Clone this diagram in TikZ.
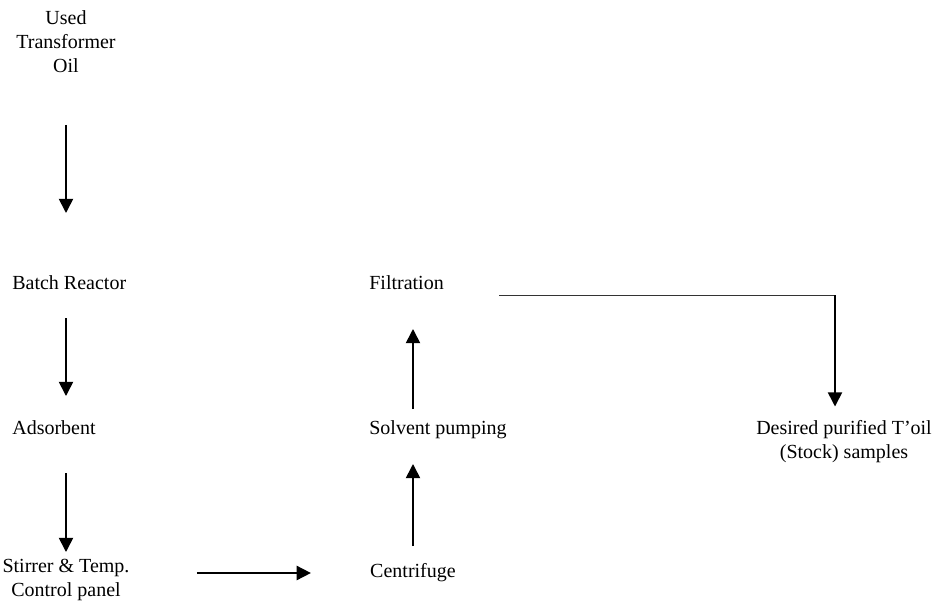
\documentclass[tikz,border=0pt]{standalone}
\usepackage{fontspec}
\setmainfont{Liberation Serif}
\usetikzlibrary{arrows.meta}

\begin{document}
\begin{tikzpicture}[x=0.6pt, y=-0.6pt, >={Triangle[length=8.5pt,width=8.5pt]},
        lbl/.style={inner sep=0pt, font=\fontsize{12}{14.4}\selectfont},
        flow/.style={->, line width=1pt},
        rule/.style={line width=0.6pt, black!80}]
        \useasboundingbox (0,0) rectangle (934,603);

        % left column
        \node[lbl, align=center] (oil) at (66,42) {Used\\Transformer\\Oil};
        \node[lbl, anchor=west] (batch) at (12,283) {Batch Reactor};
        \node[lbl, anchor=west] (adsorb) at (12,428) {Adsorbent};
        \node[lbl, align=center] (stir) at (66,580) {Stirrer \& Temp.\\Control panel};

        % middle column
        \node[lbl] (centr) at (413,573) {Centrifuge};
        \node[lbl, anchor=west] (solv) at (369,430) {Solvent pumping};
        \node[lbl, anchor=west] (filt) at (369,283) {Filtration};

        % output
        \node[lbl, align=center] (stock) at (844,442) {Desired purified T’oil\\(Stock) samples};
        \coordinate (turn) at (835,295);

        \draw[flow, shorten <=49.8pt, shorten >=42pt] (oil.center) -- (oil.center |- batch.center);
        \draw[flow, shorten <=21pt, shorten >=19.2pt] (oil.center |- batch.center) -- (oil.center |- adsorb.center);
        \draw[flow, shorten <=27pt, shorten >=16.8pt] (oil.center |- adsorb.center) -- (stir.center);
        \draw[flow, shorten <=40.2pt, shorten >=35.4pt] (stir.east |- centr.center) -- (centr.west);
        \draw[flow, shorten <=16.2pt, shorten >=20.4pt] (centr.center) -- (centr.center |- solv.center);
        \draw[flow, shorten <=12.6pt, shorten >=27.6pt] (centr.center |- solv.center) -- (centr.center |- filt.center);
        \draw[rule, shorten <=33pt] (filt.east |- turn) -- (turn);
        \draw[flow, shorten >=8.4pt] (turn) -- (turn |- stock.north);
\end{tikzpicture}
\end{document}
